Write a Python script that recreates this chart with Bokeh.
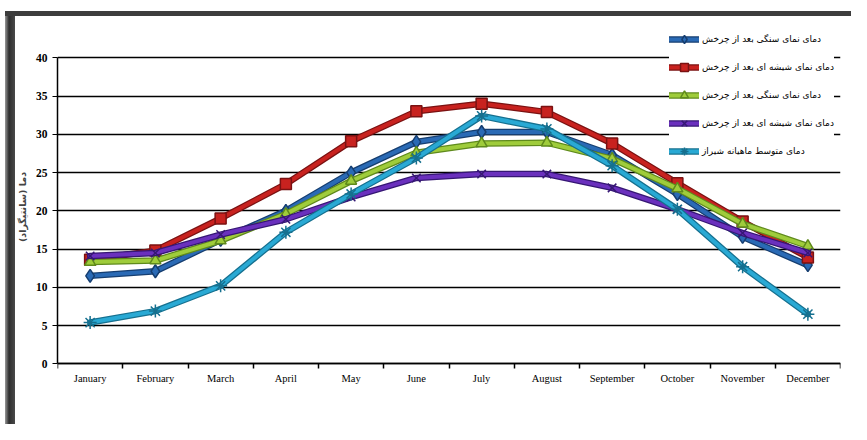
from bokeh.plotting import figure
from bokeh.models import (Range1d, FixedTicker, SingleIntervalTicker, Legend, LegendItem,
                          ColumnDataSource)
from bokeh.embed import file_html
from bokeh.resources import INLINE

months = ["January", "February", "March", "April", "May", "June", "July",
          "August", "September", "October", "November", "December"]

stone_after_1 = [11.5, 12.1, 16.2, 20.0, 25.0, 29.0, 30.3, 30.3, 27.3, 22.2, 16.6, 12.9]
glass_after_1 = [13.6, 14.8, 19.0, 23.5, 29.1, 33.0, 34.0, 32.9, 28.8, 23.6, 18.6, 13.9]
stone_after_2 = [13.3, 13.5, 16.1, 19.6, 23.9, 27.6, 28.8, 28.9, 26.8, 22.9, 18.3, 15.4]
glass_after_2 = [14.1, 14.5, 16.9, 18.9, 21.8, 24.3, 24.8, 24.8, 23.0, 20.2, 17.1, 14.5]
shiraz_mean = [5.4, 6.9, 10.2, 17.2, 22.2, 26.9, 32.4, 30.7, 25.9, 20.2, 12.7, 6.5]

labels = ["دمای نمای سنگی بعد از چرخش",
          "دمای نمای شیشه ای بعد از چرخش",
          "دمای نمای سنگی بعد از چرخش",
          "دمای نمای شیشه ای بعد از چرخش",
          "دمای متوسط ماهیانه شیراز"]
y_label = "دما (سانتیگراد)"

series = [stone_after_1, glass_after_1, stone_after_2, glass_after_2, shiraz_mean]
styles = [
    dict(color="#2a6ab5", edge="#163e70", marker="diamond", size=13),
    dict(color="#c8221f", edge="#7a1212", marker="square", size=11),
    dict(color="#9fcc3b", edge="#5f8a1c", marker="triangle", size=11),
    dict(color="#6a30bd", edge="#361774", marker="x", size=12),
    dict(color="#29a9d4", edge="#16708f", marker="asterisk", size=13),
]

month_no = list(range(1, len(months) + 1))

p = figure(width=851, height=424,
           x_range=Range1d(0.5, len(months) + 0.5),
           y_range=Range1d(-4, 45),
           output_backend="svg", toolbar_location=None,
           min_border_left=57, min_border_right=11,
           min_border_top=19, min_border_bottom=30)
p.background_fill_color = "white"
p.border_fill_color = None
p.outline_line_color = None
p.styles = {
    "background-color": "white",
    "background-image": "linear-gradient(#3d3d3d, #3d3d3d), linear-gradient(to right, #9a9a9a, #2e2e2e 40%, #4a4a4a)",
    "background-repeat": "no-repeat",
    "background-size": "100% 5px, 10px 100%",
    "background-position": "5px 11px, 5px 11px",
}

p.xaxis.fixed_location = 0
p.xaxis.ticker = FixedTicker(ticks=month_no, minor_ticks=[m - 0.5 for m in month_no] + [len(months) + 0.5])
p.xaxis.major_label_overrides = {m: name for m, name in zip(month_no, months)}
p.xaxis.major_tick_line_color = None
p.xaxis.minor_tick_line_color = "black"
p.xaxis.minor_tick_line_width = 1.5
p.xaxis.minor_tick_out = 5
p.xaxis.minor_tick_in = 0
p.xaxis.axis_line_color = "black"
p.xaxis.axis_line_width = 1.5
p.xaxis.major_label_standoff = 3
p.xaxis.major_label_text_font = "Liberation Serif"
p.xaxis.major_label_text_font_size = "10.5px"
p.xaxis.major_label_text_color = "black"

p.xgrid.visible = False
p.ygrid.grid_line_color = "black"
p.ygrid.grid_line_width = 1.5
p.yaxis.ticker = SingleIntervalTicker(interval=5)
p.yaxis.bounds = (0, 40)
p.yaxis.axis_line_color = "black"
p.yaxis.axis_line_width = 1.5
p.yaxis.major_tick_out = 5
p.yaxis.major_tick_in = 0
p.yaxis.minor_tick_line_color = None
p.yaxis.major_label_text_font = "Liberation Serif"
p.yaxis.major_label_text_font_style = "bold"
p.yaxis.major_label_text_font_size = "11.5px"
p.yaxis.major_label_text_color = "black"
p.yaxis.axis_label = y_label
p.yaxis.axis_label_text_font = "DejaVu Sans"
p.yaxis.axis_label_text_font_style = "bold"
p.yaxis.axis_label_text_font_size = "9.5px"
p.yaxis.axis_label_standoff = 5

items = []
for vals, st, lab in zip(series, styles, labels):
    src = ColumnDataSource(dict(x=month_no, temp=vals))
    r_edge = p.line("x", "temp", source=src, line_color=st["edge"], line_width=6.5,
                    line_join="round", line_cap="round")
    r_line = p.line("x", "temp", source=src, line_color=st["color"], line_width=4,
                    line_join="round", line_cap="round")
    r_mark = p.scatter("x", "temp", source=src, marker=st["marker"], size=st["size"],
                       fill_color=st["color"], line_color=st["edge"], line_width=1.5)
    items.append(LegendItem(label=lab, renderers=[r_edge, r_line, r_mark]))

legend = Legend(items=items, location=(612, 233),
                label_text_font="DejaVu Sans", label_text_font_style="normal",
                label_text_font_size="9px", label_text_color="black",
                glyph_width=30, glyph_height=20, label_height=20,
                spacing=8, padding=5, label_standoff=3,
                background_fill_color="white", background_fill_alpha=1.0,
                border_line_color=None)
p.add_layout(legend)

open("out.html", "w").write(file_html(p, INLINE))
